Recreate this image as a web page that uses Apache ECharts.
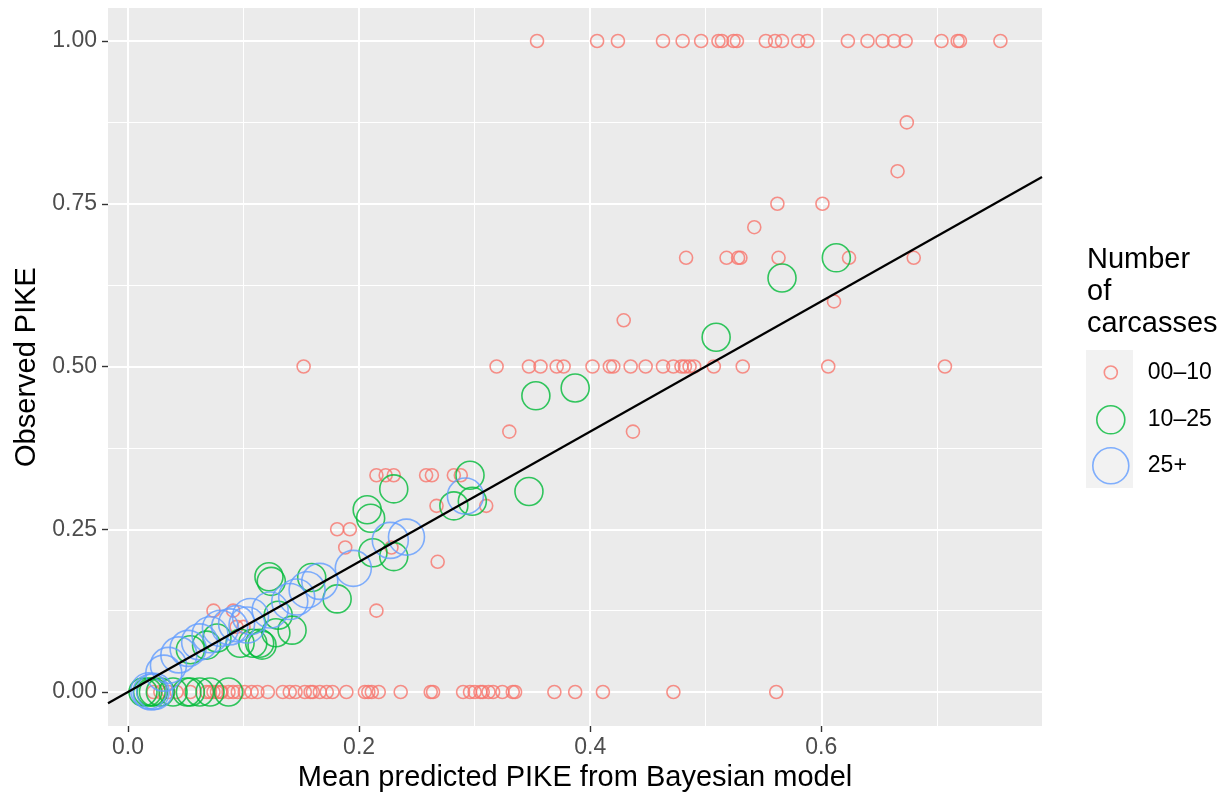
<!DOCTYPE html>
<html>
<head>
<meta charset="utf-8">
<script src="https://cdn.jsdelivr.net/npm/echarts@6/dist/echarts.min.js"></script>
<style>
  html, body { margin: 0; padding: 0; background: #fff; }
  #chart { width: 1226px; height: 798px; }
</style>
</head>
<body>
<div id="chart"></div>
<script>
// ---------- DATA ----------
const X_RANGE = [-0.0173, 0.791];
const Y_RANGE = [-0.0522, 1.0507];
const X_TICKS = [0.0, 0.2, 0.4, 0.6];
const X_MINOR = [0.1, 0.3, 0.5, 0.7];
const Y_TICKS = [0.0, 0.25, 0.5, 0.75, 1.0];
const Y_MINOR = [0.125, 0.375, 0.625, 0.875];
const GROUPS = ['00\u201310', '10\u201325', '25+'];
const ABLINE = { intercept: 0, slope: 1 };

// Group 00-10 : [mean predicted, observed]
const red = [
  [0.354,1],[0.406,1],[0.424,1],[0.463,1],[0.480,1],[0.496,1],[0.511,1],[0.514,1],[0.524,1],[0.527,1],
  [0.552,1],[0.560,1],[0.566,1],[0.580,1],[0.588,1],[0.623,1],[0.640,1],[0.653,1],[0.663,1],[0.673,1],
  [0.704,1],[0.718,1],[0.720,1],[0.755,1],
  [0.674,0.875],[0.666,0.8],[0.562,0.75],[0.601,0.75],[0.542,0.714],
  [0.483,0.667],[0.518,0.667],[0.528,0.667],[0.530,0.667],[0.563,0.667],[0.624,0.667],[0.680,0.667],
  [0.611,0.6],[0.429,0.571],
  [0.152,0.5],[0.319,0.5],[0.347,0.5],[0.357,0.5],[0.371,0.5],[0.377,0.5],[0.402,0.5],[0.417,0.5],
  [0.420,0.5],[0.435,0.5],[0.448,0.5],[0.463,0.5],[0.472,0.5],[0.479,0.5],[0.482,0.5],[0.486,0.5],
  [0.490,0.5],[0.507,0.5],[0.532,0.5],[0.606,0.5],[0.707,0.5],
  [0.330,0.4],[0.437,0.4],
  [0.215,0.333],[0.223,0.333],[0.230,0.333],[0.258,0.333],[0.263,0.333],[0.282,0.333],[0.288,0.333],
  [0.267,0.286],[0.310,0.286],
  [0.181,0.25],[0.192,0.25],[0.188,0.222],[0.228,0.222],[0.268,0.2],
  [0.074,0.125],[0.091,0.125],[0.215,0.125],[0.094,0.1],[0.100,0.1],
  [0.022,0],[0.028,0],[0.035,0],[0.042,0],[0.054,0],[0.068,0],[0.071,0],[0.074,0],[0.077,0],[0.080,0],
  [0.081,0],[0.087,0],[0.091,0],[0.095,0],[0.101,0],[0.107,0],[0.112,0],[0.121,0],[0.134,0],[0.140,0],
  [0.145,0],[0.153,0],[0.158,0],[0.160,0],[0.166,0],[0.172,0],[0.177,0],[0.189,0],[0.205,0],[0.208,0],
  [0.211,0],[0.217,0],[0.236,0],[0.262,0],[0.264,0],[0.290,0],[0.296,0],[0.300,0],[0.305,0],[0.307,0],
  [0.312,0],[0.316,0],[0.324,0],[0.333,0],[0.335,0],[0.369,0],[0.387,0],[0.411,0],[0.472,0],[0.561,0]
];

// Group 10-25
const green = [
  [0.613,0.667],[0.566,0.636],[0.509,0.545],[0.387,0.467],[0.353,0.455],[0.347,0.308],[0.296,0.333],
  [0.298,0.293],[0.282,0.286],[0.230,0.312],[0.207,0.280],[0.210,0.267],[0.212,0.214],[0.230,0.208],
  [0.181,0.143],[0.159,0.176],[0.122,0.177],[0.124,0.170],[0.130,0.118],[0.128,0.091],[0.142,0.095],
  [0.114,0.075],[0.097,0.075],[0.108,0.075],[0.116,0.072],[0.077,0.083],[0.068,0.072],[0.054,0.065],
  [0.013,0],[0.017,0],[0.020,0],[0.022,0],[0.028,0],[0.039,0],[0.051,0],[0.054,0],[0.062,0],[0.071,0],[0.087,0]
];

// Group 25+
const blue = [
  [0.292,0.301],[0.241,0.238],[0.227,0.233],[0.195,0.190],[0.166,0.170],[0.155,0.157],[0.146,0.146],
  [0.140,0.139],[0.123,0.126],[0.106,0.116],[0.103,0.103],[0.094,0.105],[0.088,0.100],[0.080,0.098],
  [0.071,0.088],[0.062,0.077],[0.052,0.067],[0.044,0.057],[0.035,0.041],[0.031,0.029],
  [0.020,0],[0.018,0.002],[0.023,0.001]
];

// ---------- STYLE ----------
const FONT = '"Liberation Sans", Arial, Helvetica, sans-serif';
const COLORS = ['#F8766D', '#00BA38', '#619CFF'];
const SIZES = [13, 28, 36];
const STROKE = 1.6;

const chart = echarts.init(document.getElementById('chart'), null, { renderer: 'canvas' });

const abLine = X_RANGE.map(x => [x, ABLINE.intercept + ABLINE.slope * x]);

function scatter(name, data, i) {
  return {
    name: name, type: 'scatter', data: data,
    xAxisIndex: 0, yAxisIndex: 0,
    symbol: 'circle', symbolSize: SIZES[i],
    itemStyle: { color: 'rgba(0,0,0,0)', borderColor: COLORS[i], borderWidth: STROKE },
    emphasis: { disabled: true }, silent: true, z: 3
  };
}

const legendTops = [361, 405, 447];
const legendLefts = [1103.5, 1096, 1092];
const legendPads = [25.5, 18, 14];

const option = {
  animation: false,
  backgroundColor: '#ffffff',
  textStyle: { fontFamily: FONT },
  title: {
    text: 'Number\nof\ncarcasses', left: 1087, top: 244, padding: 0,
    textStyle: { fontSize: 29, fontWeight: 'normal', color: '#000', lineHeight: 32, fontFamily: FONT }
  },
  grid: {
    left: 108, right: 184, top: 8, bottom: 72,
    show: true, backgroundColor: '#EBEBEB', borderWidth: 0,
    containLabel: false, outerBoundsMode: 'none'
  },
  graphic: [{
    type: 'rect', left: 1086, top: 350, z: -1,
    shape: { width: 47, height: 138 },
    style: { fill: '#F2F2F2' }
  }],
  legend: GROUPS.map((g, i) => ({
    data: [{
      name: g, icon: 'circle',
      itemStyle: { color: 'rgba(0,0,0,0)', borderColor: COLORS[i], borderWidth: STROKE }
    }],
    left: legendLefts[i], top: legendTops[i],
    padding: 0, itemWidth: SIZES[i], itemHeight: SIZES[i],
    selectedMode: false, orient: 'vertical',
    textStyle: { fontSize: 23, color: '#000', fontFamily: FONT, padding: [0, 0, 0, legendPads[i]] }
  })),
  xAxis: [{
    type: 'value', min: X_RANGE[0], max: X_RANGE[1],
    name: 'Mean predicted PIKE from Bayesian model', nameLocation: 'middle', nameGap: 37,
    nameTextStyle: { fontSize: 29, color: '#000', fontFamily: FONT },
    axisLine: { show: false, onZero: false },
    axisTick: { show: true, length: 6, customValues: X_TICKS, lineStyle: { color: '#333333', width: 1.4 } },
    axisLabel: { customValues: X_TICKS, formatter: v => v.toFixed(1), fontSize: 23, color: '#4D4D4D', margin: 10, fontFamily: FONT },
    splitLine: { show: true, lineStyle: { color: '#FFFFFF', width: 2 } }
  }, {
    type: 'value', min: X_RANGE[0], max: X_RANGE[1], position: 'bottom',
    axisLine: { show: false, onZero: false },
    axisTick: { show: false, customValues: X_MINOR },
    axisLabel: { show: false, customValues: X_MINOR },
    splitLine: { show: true, lineStyle: { color: '#FFFFFF', width: 1 } }
  }],
  yAxis: [{
    type: 'value', min: Y_RANGE[0], max: Y_RANGE[1],
    name: 'Observed PIKE', nameLocation: 'middle', nameGap: 66,
    nameTextStyle: { fontSize: 29, color: '#000', fontFamily: FONT },
    axisLine: { show: false, onZero: false },
    axisTick: { show: true, length: 6, customValues: Y_TICKS, lineStyle: { color: '#333333', width: 1.4 } },
    axisLabel: { customValues: Y_TICKS, formatter: v => v.toFixed(2), fontSize: 23, color: '#4D4D4D', margin: 11, fontFamily: FONT },
    splitLine: { show: true, lineStyle: { color: '#FFFFFF', width: 2 } }
  }, {
    type: 'value', min: Y_RANGE[0], max: Y_RANGE[1], position: 'left',
    axisLine: { show: false, onZero: false },
    axisTick: { show: false, customValues: Y_MINOR },
    axisLabel: { show: false, customValues: Y_MINOR },
    splitLine: { show: true, lineStyle: { color: '#FFFFFF', width: 1 } }
  }],
  series: [
    scatter(GROUPS[0], red, 0),
    scatter(GROUPS[1], green, 1),
    scatter(GROUPS[2], blue, 2),
    {
      name: 'identity', type: 'line', data: abLine, xAxisIndex: 0, yAxisIndex: 0,
      showSymbol: false, symbol: 'none', silent: true, z: 4,
      lineStyle: { color: '#000', width: 2.2 }
    }
  ]
};
chart.setOption(option);
</script>
</body>
</html>
